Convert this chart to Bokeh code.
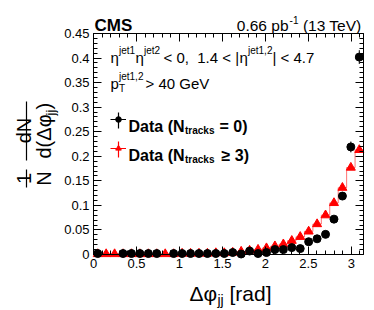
import math
import numpy as np
from bokeh.plotting import figure
from bokeh.models import (Range1d, FixedTicker, LinearAxis, Label, BoxAnnotation,
                          Legend, LegendItem, ColumnDataSource)
from bokeh.embed import file_html
from bokeh.resources import INLINE

# ---------------- data ----------------
n_bins = 32
x_lo, x_hi = 0.0, math.pi
y_lo, y_hi = 0.0, 0.45

nan = float("nan")
# Data (N_tracks = 0)
ntrk0_vals = [0.002, nan, nan, 0.002, 0.002, 0.002, 0.002, 0.002,
              nan, 0.002, 0.002, 0.002, 0.002, 0.002, 0.002, 0.002,
              0.004, 0.001, 0.007, 0.002, 0.004, 0.010, 0.010, 0.014,
              0.012, 0.026, 0.032, 0.041, 0.072, 0.119, 0.219, 0.402]
ntrk0_errs = [0.001, 0.0, 0.0, 0.001, 0.001, 0.001, 0.001, 0.001,
              0.0, 0.001, 0.001, 0.001, 0.001, 0.001, 0.001, 0.001,
              0.002, 0.001, 0.002, 0.001, 0.002, 0.003, 0.003, 0.003,
              0.003, 0.004, 0.004, 0.005, 0.006, 0.008, 0.011, 0.014]
# Data (N_tracks >= 3)
ntrk3_vals = [0.001, 0.001, 0.001, 0.001, 0.001, 0.001, 0.001, 0.001,
              0.001, 0.001, 0.002, 0.002, 0.002, 0.002, 0.003, 0.003,
              0.004, 0.006, 0.008, 0.010, 0.013, 0.017, 0.021, 0.028,
              0.036, 0.047, 0.062, 0.080, 0.105, 0.136, 0.177, 0.213]
ntrk3_errs = [0.0005] * 16 + [0.001, 0.001, 0.001, 0.001, 0.001, 0.001, 0.001, 0.001,
                              0.001, 0.001, 0.002, 0.002, 0.002, 0.002, 0.003, 0.003]

x_ticks = [0, 0.5, 1, 1.5, 2, 2.5, 3]
x_tick_labels = ["0", "0.5", "1", "1.5", "2", "2.5", "3"]
y_ticks = [0, 0.05, 0.1, 0.15, 0.2, 0.25, 0.3, 0.35, 0.4, 0.45]
y_tick_labels = ["0", "0.05", "0.1", "0.15", "0.2", "0.25", "0.3", "0.35", "0.4", "0.45"]

edges = np.linspace(x_lo, x_hi, n_bins + 1)
centers = 0.5 * (edges[:-1] + edges[1:])

v0 = np.array(ntrk0_vals); e0 = np.array(ntrk0_errs)
v3 = np.array(ntrk3_vals); e3 = np.array(ntrk3_errs)
src0 = ColumnDataSource(dict(x=centers, y=v0, lo=v0 - e0, hi=v0 + e0))
src3 = ColumnDataSource(dict(x=centers, y=v3, lo=v3 - e3, hi=v3 + e3))
step_src = ColumnDataSource(dict(x=edges, y=np.append(v3, v3[-1])))

FONT = "Liberation Sans"

# ---------------- layout (pixels) ----------------
W, H = 374, 310
PL, PR, PT, PB = 93, 363, 33, 254          # visible plot box in canvas pixels
sx = (PR - PL) / (x_hi - x_lo)
sy = (PB - PT) / (y_hi - y_lo)
X0 = x_lo - PL / sx
X1 = x_hi + (W - PR) / sx
Y0 = y_lo - (H - PB) / sy
Y1 = y_hi + PT / sy

p = figure(width=W, height=H, x_range=Range1d(X0, X1), y_range=Range1d(Y0, Y1),
           output_backend="svg", toolbar_location=None,
           min_border=0, min_border_left=0, min_border_right=0,
           min_border_top=0, min_border_bottom=0)
if p.title is not None:
    p.title.visible = False
p.xgrid.visible = False
p.ygrid.visible = False
p.outline_line_color = None
p.background_fill_color = "white"
p.border_fill_color = "white"

x_minor = list(np.round(np.arange(0, 3.15, 0.1), 2))
y_minor = list(np.round(np.arange(0, 0.455, 0.01), 3))

def style_axis(ax, ticks, minor, labels, show_labels, loc, bounds):
    ax.fixed_location = loc
    ax.bounds = bounds
    ax.ticker = FixedTicker(ticks=ticks, minor_ticks=minor)
    ax.major_tick_in = 8
    ax.major_tick_out = 0
    ax.minor_tick_in = 4
    ax.minor_tick_out = 0
    ax.major_tick_line_color = "black"
    ax.minor_tick_line_color = "black"
    ax.axis_line_color = "black"
    ax.axis_line_width = 1
    if show_labels:
        ax.major_label_overrides = {t: l for t, l in zip(ticks, labels)}
        ax.major_label_text_font = FONT
        ax.major_label_text_font_size = "13px"
        ax.major_label_text_color = "black"
        ax.major_label_standoff = 4
    else:
        ax.major_label_overrides = {t: "" for t in ticks}
        ax.major_label_text_font_size = "0px"
        ax.major_label_standoff = 0

style_axis(p.xaxis[0], x_ticks, x_minor, x_tick_labels, True, y_lo, (x_lo, x_hi))
style_axis(p.yaxis[0], y_ticks, y_minor, y_tick_labels, True, x_lo, (y_lo, y_hi))
top_ax = LinearAxis()
right_ax = LinearAxis()
style_axis(top_ax, x_ticks, x_minor, x_tick_labels, False, y_hi, (x_lo, x_hi))
style_axis(right_ax, y_ticks, y_minor, y_tick_labels, False, x_hi, (y_lo, y_hi))
p.add_layout(top_ax, "above")
p.add_layout(right_ax, "right")

# ---------------- glyphs ----------------
p.step(x="x", y="y", source=step_src, mode="after", line_color="#ff0000", line_alpha=0.55, line_width=1)
seg3 = p.segment(x0="x", y0="lo", x1="x", y1="hi", source=src3, line_color="#ff0000", line_width=1)
sc3 = p.scatter(x="x", y="y", source=src3, marker="triangle", size=9, fill_color="#ff0000",
                line_color="#ff0000")
seg0 = p.segment(x0="x", y0="lo", x1="x", y1="hi", source=src0, line_color="black", line_width=1)
sc0 = p.scatter(x="x", y="y", source=src0, marker="circle", size=8, fill_color="black",
                line_color="black")

legend = Legend(items=[LegendItem(label=" ", renderers=[seg0, sc0]),
                       LegendItem(label=" ", renderers=[seg3, sc3])],
                location=(110, H - 155), padding=0, margin=0, spacing=15,
                glyph_width=16, glyph_height=14, label_height=14, label_width=0,
                label_standoff=0, label_text_font_size="6px",
                border_line_alpha=0, background_fill_alpha=0)
p.add_layout(legend)

def vbar_screen(px, top_py, bot_py, color):
    p.add_layout(BoxAnnotation(left=px - 0.6, right=px + 0.6,
                               top=H - top_py, bottom=H - bot_py,
                               left_units="screen", right_units="screen",
                               top_units="screen", bottom_units="screen",
                               fill_color=color, fill_alpha=1.0, line_color=None))

# vertical error-bar strokes of the legend symbols
vbar_screen(118, 112, 128, "black")
vbar_screen(118, 141, 157, "#ff0000")

# ---------------- texts (canvas pixel coords, y down) ----------------
def lab(text, px, py, size, bold=False, align="left", angle=0.0):
    p.add_layout(Label(x=px, y=H - py, x_units="screen", y_units="screen", text=text,
                       text_font=FONT, text_font_size=f"{size}px",
                       text_font_style="bold" if bold else "normal",
                       text_align=align, text_baseline="alphabetic", angle=angle,
                       text_color="black"))

# header
lab("CMS", 94, 25, 17, bold=True)
lab("(13 TeV)", 361, 25, 15.5, align="right")
lab("-1", 298, 19, 10, align="right")
lab("0.66 pb", 288, 25, 15.5, align="right")

# selection text
lab("η", 110, 57, 15)
lab("jet1", 118.5, 50, 10)
lab("η", 135, 57, 15)
lab("jet2", 143.5, 50, 10)
lab("<\u00a00,\u00a0\u00a01.4\u00a0<\u00a0|", 163, 57, 15)
lab("η", 239, 57, 15)
lab("jet1,2", 247.5, 50, 10)
lab("|\u00a0<\u00a04.7", 272, 57, 15)

lab("p", 110, 83, 15)
lab("jet1,2", 118.5, 76, 10)
lab("T", 118.5, 88, 10)
lab(">\u00a040\u00a0GeV", 145, 83, 15)

# legend texts
lab("Data (N", 128, 126, 16, bold=True)
lab("tracks", 184.5, 130, 10, bold=True)
lab("= 0)", 219, 126, 16, bold=True)
lab("Data (N", 128, 155, 16, bold=True)
lab("tracks", 184.5, 159, 10, bold=True)
lab("≥ 3)", 221, 155, 16, bold=True)

# x axis title
lab("Δφ", 189, 293, 21)
lab("jj", 217, 299, 14)
lab("[rad]", 229, 293, 21)

# y axis title (rotated fraction)
R = math.pi / 2
lab("1", 23, 183.5, 20, angle=R)
lab("N", 43.5, 185.2, 20, angle=R)
lab("dN", 23, 142.8, 20, angle=R)
lab("d(Δφ", 43.5, 158, 20, angle=R)
lab("jj", 50, 115, 13, angle=R)
lab(")", 43.5, 109, 20, angle=R)

vbar_screen(26, 169, 187, "black")
vbar_screen(26, 101, 160, "black")

open("out.html", "w").write(file_html(p, INLINE))
